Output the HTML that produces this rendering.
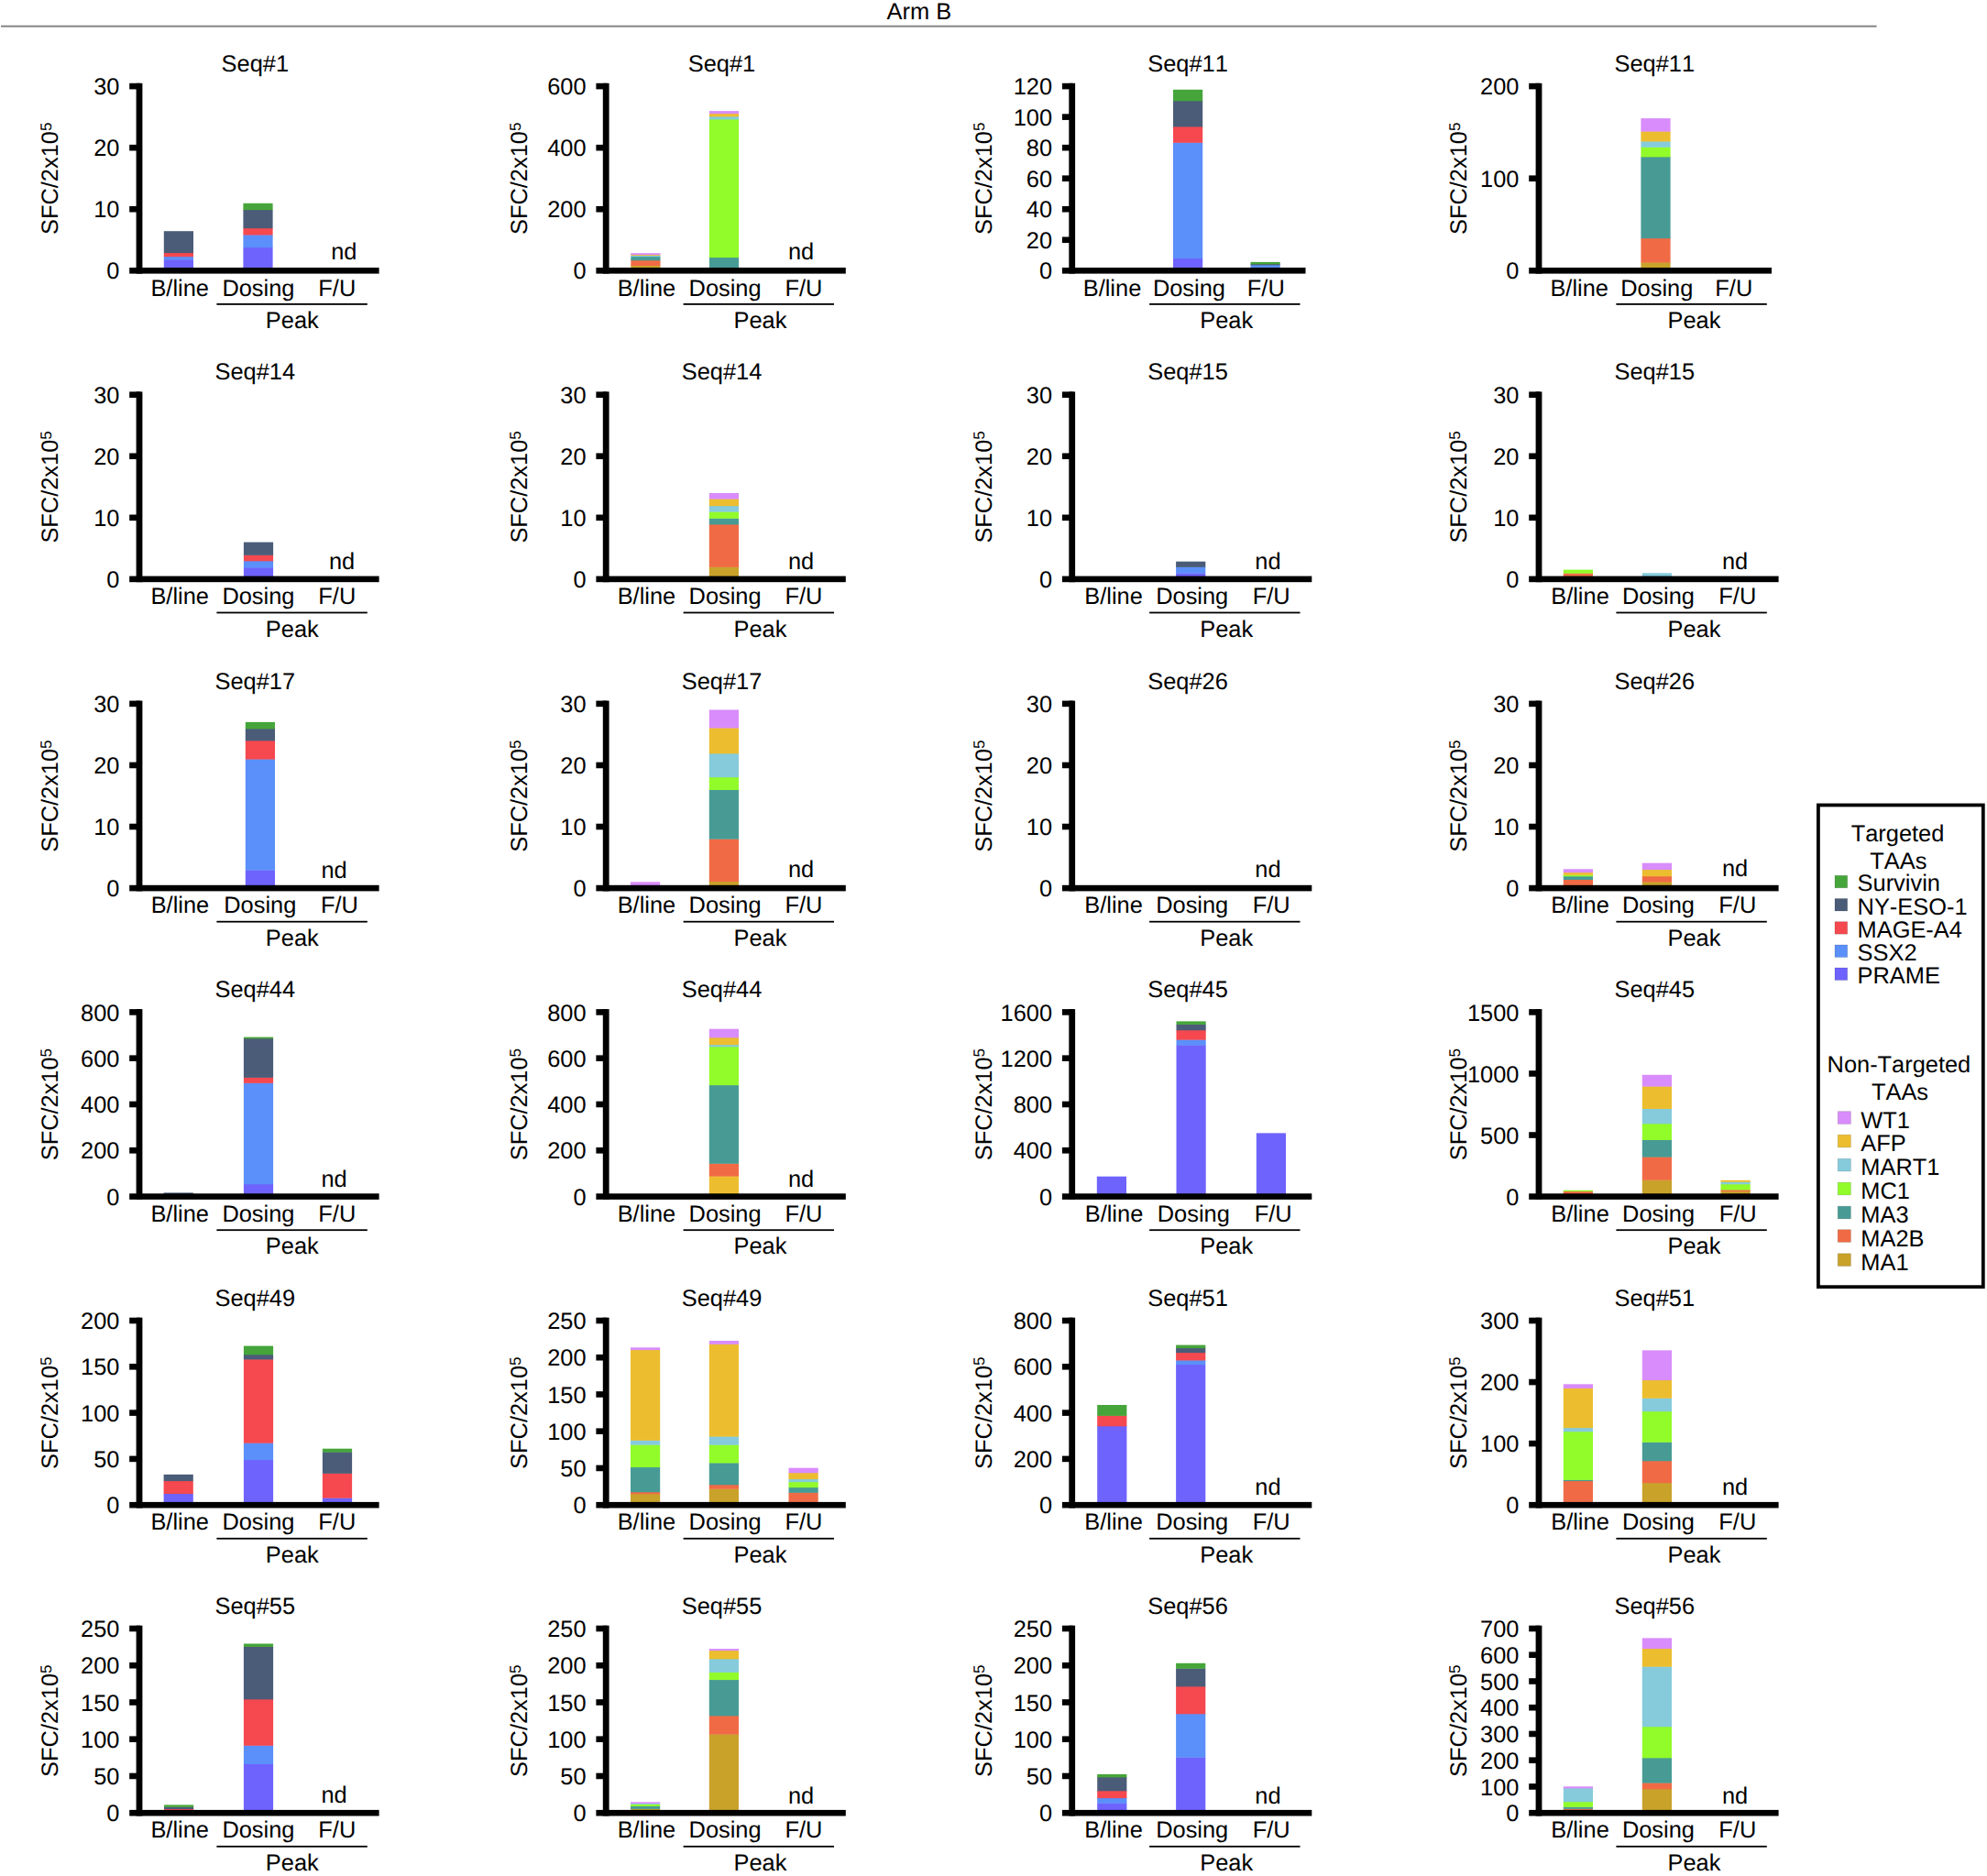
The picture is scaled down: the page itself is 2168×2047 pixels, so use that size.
<!DOCTYPE html>
<html lang="en"><head><meta charset="utf-8"><title>Arm B</title>
<style>html,body{margin:0;padding:0;background:#fff}svg{display:block}text{font-kerning:none;font-variant-ligatures:none;text-rendering:geometricPrecision;font-family:"Liberation Sans",Arial,Helvetica,sans-serif;font-size:25.4px;fill:#000}.m{text-anchor:middle}.e{text-anchor:end}.ax{fill:#000}</style>
</head><body>
<svg width="2168" height="2047" viewBox="0 0 2168 2047">
<rect width="2168" height="2047" fill="#fff"/>
<text class="m" x="1002.8" y="21.1">Arm B</text>
<rect x="1" y="27.7" width="2046.6" height="1.9" fill="#7f7f7f"/>
<g>
<text class="m" x="278.3" y="77.7">Seq#1</text>
<text class="m" transform="translate(63 194.8) rotate(-90)">SFC/2x10<tspan font-size="17" dy="-7.4">5</tspan></text>
<rect x="178.8" y="283.1" width="32.2" height="12.6" fill="#6e63fd"/>
<rect x="178.8" y="279.8" width="32.2" height="3.7" fill="#5b8ff9"/>
<rect x="178.8" y="275.7" width="32.2" height="4.5" fill="#f5484f"/>
<rect x="178.8" y="252.2" width="32.2" height="23.9" fill="#4b5c78"/>
<rect x="265.4" y="269.8" width="32.2" height="25.9" fill="#6e63fd"/>
<rect x="265.4" y="256.1" width="32.2" height="14.1" fill="#5b8ff9"/>
<rect x="265.4" y="248.8" width="32.2" height="7.7" fill="#f5484f"/>
<rect x="265.4" y="228.7" width="32.2" height="20.5" fill="#4b5c78"/>
<rect x="265.4" y="221.8" width="32.2" height="7.3" fill="#46a53a"/>
<rect class="ax" x="141.2" y="90.8" width="11.8" height="6.6"/>
<text class="e" x="130.4" y="103.2">30</text>
<rect class="ax" x="141.2" y="157.87" width="11.8" height="6.6"/>
<text class="e" x="130.4" y="170.27">20</text>
<rect class="ax" x="141.2" y="224.93" width="11.8" height="6.6"/>
<text class="e" x="130.4" y="237.33">10</text>
<text class="e" x="130.4" y="304.4">0</text>
<rect class="ax" x="148.6" y="90.8" width="6.8" height="207.8"/>
<rect class="ax" x="141.2" y="292" width="272.4" height="6.6"/>
<text class="m" x="196.2" y="322.5">B/line</text>
<text class="m" x="281.9" y="322.5">Dosing</text>
<text class="m" x="367.8" y="322.5">F/U</text>
<rect class="ax" x="236.4" y="331" width="164.4" height="1.8"/>
<text class="m" x="318.8" y="358">Peak</text>
<text class="m" x="375.3" y="282.8">nd</text>
</g>
<g>
<text class="m" x="787.5" y="77.7">Seq#1</text>
<text class="m" transform="translate(575 194.8) rotate(-90)">SFC/2x10<tspan font-size="17" dy="-7.4">5</tspan></text>
<rect x="688.3" y="289.6" width="32.2" height="6.1" fill="#c9a22a"/>
<rect x="688.3" y="283.9" width="32.2" height="6.1" fill="#f06b45"/>
<rect x="688.3" y="279.8" width="32.2" height="4.5" fill="#479b94"/>
<rect x="688.3" y="278.6" width="32.2" height="1.6" fill="#85cbdc"/>
<rect x="688.3" y="277.7" width="32.2" height="1.3" fill="#ecbe2f"/>
<rect x="688.3" y="276.2" width="32.2" height="1.9" fill="#d98cfb"/>
<rect x="773.9" y="280.7" width="32.2" height="15" fill="#479b94"/>
<rect x="773.9" y="130" width="32.2" height="151.1" fill="#92fb2a"/>
<rect x="773.9" y="127" width="32.2" height="3.4" fill="#85cbdc"/>
<rect x="773.9" y="123.8" width="32.2" height="3.6" fill="#ecbe2f"/>
<rect x="773.9" y="121.1" width="32.2" height="3.1" fill="#d98cfb"/>
<rect class="ax" x="650.4" y="90.8" width="11.8" height="6.6"/>
<text class="e" x="639.6" y="103.2">600</text>
<rect class="ax" x="650.4" y="157.87" width="11.8" height="6.6"/>
<text class="e" x="639.6" y="170.27">400</text>
<rect class="ax" x="650.4" y="224.93" width="11.8" height="6.6"/>
<text class="e" x="639.6" y="237.33">200</text>
<text class="e" x="639.6" y="304.4">0</text>
<rect class="ax" x="657.8" y="90.8" width="6.8" height="207.8"/>
<rect class="ax" x="650.4" y="292" width="272.4" height="6.6"/>
<text class="m" x="705.4" y="322.5">B/line</text>
<text class="m" x="791.1" y="322.5">Dosing</text>
<text class="m" x="877" y="322.5">F/U</text>
<rect class="ax" x="745.6" y="331" width="164.4" height="1.8"/>
<text class="m" x="829.5" y="358">Peak</text>
<text class="m" x="874" y="282.5">nd</text>
</g>
<g>
<text class="m" x="1296" y="77.7">Seq#11</text>
<text class="m" transform="translate(1081.8 194.8) rotate(-90)">SFC/2x10<tspan font-size="17" dy="-7.4">5</tspan></text>
<rect x="1280" y="281.7" width="32.2" height="14" fill="#6e63fd"/>
<rect x="1280" y="155.4" width="32.2" height="126.7" fill="#5b8ff9"/>
<rect x="1280" y="138" width="32.2" height="17.8" fill="#f5484f"/>
<rect x="1280" y="109.9" width="32.2" height="28.5" fill="#4b5c78"/>
<rect x="1280" y="97.8" width="32.2" height="12.5" fill="#46a53a"/>
<rect x="1364.5" y="289" width="32.2" height="6.7" fill="#5b8ff9"/>
<rect x="1364.5" y="287.9" width="32.2" height="1.5" fill="#4b5c78"/>
<rect x="1364.5" y="285.9" width="32.2" height="2.4" fill="#46a53a"/>
<rect class="ax" x="1158.9" y="90.8" width="11.8" height="6.6"/>
<text class="e" x="1148.1" y="103.2">120</text>
<rect class="ax" x="1158.9" y="124.33" width="11.8" height="6.6"/>
<text class="e" x="1148.1" y="136.73">100</text>
<rect class="ax" x="1158.9" y="157.87" width="11.8" height="6.6"/>
<text class="e" x="1148.1" y="170.27">80</text>
<rect class="ax" x="1158.9" y="191.4" width="11.8" height="6.6"/>
<text class="e" x="1148.1" y="203.8">60</text>
<rect class="ax" x="1158.9" y="224.93" width="11.8" height="6.6"/>
<text class="e" x="1148.1" y="237.33">40</text>
<rect class="ax" x="1158.9" y="258.47" width="11.8" height="6.6"/>
<text class="e" x="1148.1" y="270.87">20</text>
<text class="e" x="1148.1" y="304.4">0</text>
<rect class="ax" x="1166.3" y="90.8" width="6.8" height="207.8"/>
<rect class="ax" x="1158.9" y="292" width="265.6" height="6.6"/>
<text class="m" x="1213.5" y="322.5">B/line</text>
<text class="m" x="1297.4" y="322.5">Dosing</text>
<text class="m" x="1381.3" y="322.5">F/U</text>
<rect class="ax" x="1254.1" y="331" width="164.4" height="1.8"/>
<text class="m" x="1338.2" y="358">Peak</text>
</g>
<g>
<text class="m" x="1805.3" y="77.7">Seq#11</text>
<text class="m" transform="translate(1600.3 194.8) rotate(-90)">SFC/2x10<tspan font-size="17" dy="-7.4">5</tspan></text>
<rect x="1790.4" y="286.2" width="32.2" height="9.5" fill="#c9a22a"/>
<rect x="1790.4" y="259.8" width="32.2" height="26.8" fill="#f06b45"/>
<rect x="1790.4" y="171" width="32.2" height="89.2" fill="#479b94"/>
<rect x="1790.4" y="160.3" width="32.2" height="11.1" fill="#92fb2a"/>
<rect x="1790.4" y="154.1" width="32.2" height="6.6" fill="#85cbdc"/>
<rect x="1790.4" y="143.2" width="32.2" height="11.3" fill="#ecbe2f"/>
<rect x="1790.4" y="129.1" width="32.2" height="14.5" fill="#d98cfb"/>
<rect class="ax" x="1668.2" y="90.8" width="11.8" height="6.6"/>
<text class="e" x="1657.4" y="103.2">200</text>
<rect class="ax" x="1668.2" y="191.4" width="11.8" height="6.6"/>
<text class="e" x="1657.4" y="203.8">100</text>
<text class="e" x="1657.4" y="304.4">0</text>
<rect class="ax" x="1675.6" y="90.8" width="6.8" height="207.8"/>
<rect class="ax" x="1668.2" y="292" width="264.8" height="6.6"/>
<text class="m" x="1723.2" y="322.5">B/line</text>
<text class="m" x="1807.8" y="322.5">Dosing</text>
<text class="m" x="1891.8" y="322.5">F/U</text>
<rect class="ax" x="1763.4" y="331" width="164.4" height="1.8"/>
<text class="m" x="1848.5" y="358">Peak</text>
</g>
<g>
<text class="m" x="278.3" y="414.3">Seq#14</text>
<text class="m" transform="translate(63 531.4) rotate(-90)">SFC/2x10<tspan font-size="17" dy="-7.4">5</tspan></text>
<rect x="265.9" y="619.1" width="32.2" height="13.2" fill="#6e63fd"/>
<rect x="265.9" y="611.9" width="32.2" height="7.6" fill="#5b8ff9"/>
<rect x="265.9" y="605.5" width="32.2" height="6.8" fill="#f5484f"/>
<rect x="265.9" y="591.6" width="32.2" height="14.3" fill="#4b5c78"/>
<rect class="ax" x="141.2" y="427.4" width="11.8" height="6.6"/>
<text class="e" x="130.4" y="439.8">30</text>
<rect class="ax" x="141.2" y="494.47" width="11.8" height="6.6"/>
<text class="e" x="130.4" y="506.87">20</text>
<rect class="ax" x="141.2" y="561.53" width="11.8" height="6.6"/>
<text class="e" x="130.4" y="573.93">10</text>
<text class="e" x="130.4" y="641">0</text>
<rect class="ax" x="148.6" y="427.4" width="6.8" height="207.8"/>
<rect class="ax" x="141.2" y="628.6" width="272.4" height="6.6"/>
<text class="m" x="196.2" y="659.1">B/line</text>
<text class="m" x="281.9" y="659.1">Dosing</text>
<text class="m" x="367.8" y="659.1">F/U</text>
<rect class="ax" x="236.4" y="667.6" width="164.4" height="1.8"/>
<text class="m" x="318.8" y="694.6">Peak</text>
<text class="m" x="373" y="620.5">nd</text>
</g>
<g>
<text class="m" x="787.5" y="414.3">Seq#14</text>
<text class="m" transform="translate(575 531.4) rotate(-90)">SFC/2x10<tspan font-size="17" dy="-7.4">5</tspan></text>
<rect x="773.8" y="618.5" width="32.2" height="13.8" fill="#c9a22a"/>
<rect x="773.8" y="572" width="32.2" height="46.9" fill="#f06b45"/>
<rect x="773.8" y="565.4" width="32.2" height="7" fill="#479b94"/>
<rect x="773.8" y="558.2" width="32.2" height="7.6" fill="#92fb2a"/>
<rect x="773.8" y="551.8" width="32.2" height="6.8" fill="#85cbdc"/>
<rect x="773.8" y="544.2" width="32.2" height="8" fill="#ecbe2f"/>
<rect x="773.8" y="538" width="32.2" height="6.6" fill="#d98cfb"/>
<rect class="ax" x="650.4" y="427.4" width="11.8" height="6.6"/>
<text class="e" x="639.6" y="439.8">30</text>
<rect class="ax" x="650.4" y="494.47" width="11.8" height="6.6"/>
<text class="e" x="639.6" y="506.87">20</text>
<rect class="ax" x="650.4" y="561.53" width="11.8" height="6.6"/>
<text class="e" x="639.6" y="573.93">10</text>
<text class="e" x="639.6" y="641">0</text>
<rect class="ax" x="657.8" y="427.4" width="6.8" height="207.8"/>
<rect class="ax" x="650.4" y="628.6" width="272.4" height="6.6"/>
<text class="m" x="705.4" y="659.1">B/line</text>
<text class="m" x="791.1" y="659.1">Dosing</text>
<text class="m" x="877" y="659.1">F/U</text>
<rect class="ax" x="745.6" y="667.6" width="164.4" height="1.8"/>
<text class="m" x="829.5" y="694.6">Peak</text>
<text class="m" x="874" y="620.5">nd</text>
</g>
<g>
<text class="m" x="1296" y="414.3">Seq#15</text>
<text class="m" transform="translate(1081.8 531.4) rotate(-90)">SFC/2x10<tspan font-size="17" dy="-7.4">5</tspan></text>
<rect x="1283.1" y="625.3" width="32.2" height="7" fill="#6e63fd"/>
<rect x="1283.1" y="618.5" width="32.2" height="7.2" fill="#5b8ff9"/>
<rect x="1283.1" y="612.7" width="32.2" height="6.2" fill="#4b5c78"/>
<rect class="ax" x="1158.9" y="427.4" width="11.8" height="6.6"/>
<text class="e" x="1148.1" y="439.8">30</text>
<rect class="ax" x="1158.9" y="494.47" width="11.8" height="6.6"/>
<text class="e" x="1148.1" y="506.87">20</text>
<rect class="ax" x="1158.9" y="561.53" width="11.8" height="6.6"/>
<text class="e" x="1148.1" y="573.93">10</text>
<text class="e" x="1148.1" y="641">0</text>
<rect class="ax" x="1166.3" y="427.4" width="6.8" height="207.8"/>
<rect class="ax" x="1158.9" y="628.6" width="272.4" height="6.6"/>
<text class="m" x="1215.1" y="659.1">B/line</text>
<text class="m" x="1300.7" y="659.1">Dosing</text>
<text class="m" x="1387.2" y="659.1">F/U</text>
<rect class="ax" x="1254.1" y="667.6" width="164.4" height="1.8"/>
<text class="m" x="1338.2" y="694.6">Peak</text>
<text class="m" x="1383.4" y="620.5">nd</text>
</g>
<g>
<text class="m" x="1805.3" y="414.3">Seq#15</text>
<text class="m" transform="translate(1600.3 531.4) rotate(-90)">SFC/2x10<tspan font-size="17" dy="-7.4">5</tspan></text>
<rect x="1705.8" y="625.3" width="32.2" height="7" fill="#f06b45"/>
<rect x="1705.8" y="621.6" width="32.2" height="4.1" fill="#92fb2a"/>
<rect x="1791.8" y="625.3" width="32.2" height="7" fill="#85cbdc"/>
<rect class="ax" x="1668.2" y="427.4" width="11.8" height="6.6"/>
<text class="e" x="1657.4" y="439.8">30</text>
<rect class="ax" x="1668.2" y="494.47" width="11.8" height="6.6"/>
<text class="e" x="1657.4" y="506.87">20</text>
<rect class="ax" x="1668.2" y="561.53" width="11.8" height="6.6"/>
<text class="e" x="1657.4" y="573.93">10</text>
<text class="e" x="1657.4" y="641">0</text>
<rect class="ax" x="1675.6" y="427.4" width="6.8" height="207.8"/>
<rect class="ax" x="1668.2" y="628.6" width="272.4" height="6.6"/>
<text class="m" x="1724" y="659.1">B/line</text>
<text class="m" x="1809.4" y="659.1">Dosing</text>
<text class="m" x="1895.8" y="659.1">F/U</text>
<rect class="ax" x="1763.4" y="667.6" width="164.4" height="1.8"/>
<text class="m" x="1848.5" y="694.6">Peak</text>
<text class="m" x="1893" y="620.5">nd</text>
</g>
<g>
<text class="m" x="278.3" y="751.5">Seq#17</text>
<text class="m" transform="translate(63 868.6) rotate(-90)">SFC/2x10<tspan font-size="17" dy="-7.4">5</tspan></text>
<rect x="267.8" y="949.3" width="32.2" height="20.2" fill="#6e63fd"/>
<rect x="267.8" y="828.2" width="32.2" height="121.5" fill="#5b8ff9"/>
<rect x="267.8" y="808" width="32.2" height="20.6" fill="#f5484f"/>
<rect x="267.8" y="795" width="32.2" height="13.4" fill="#4b5c78"/>
<rect x="267.8" y="787.9" width="32.2" height="7.5" fill="#46a53a"/>
<rect class="ax" x="141.2" y="764.6" width="11.8" height="6.6"/>
<text class="e" x="130.4" y="777">30</text>
<rect class="ax" x="141.2" y="831.67" width="11.8" height="6.6"/>
<text class="e" x="130.4" y="844.07">20</text>
<rect class="ax" x="141.2" y="898.73" width="11.8" height="6.6"/>
<text class="e" x="130.4" y="911.13">10</text>
<text class="e" x="130.4" y="978.2">0</text>
<rect class="ax" x="148.6" y="764.6" width="6.8" height="207.8"/>
<rect class="ax" x="141.2" y="965.8" width="272.4" height="6.6"/>
<text class="m" x="196.4" y="996.3">B/line</text>
<text class="m" x="283.8" y="996.3">Dosing</text>
<text class="m" x="370.4" y="996.3">F/U</text>
<rect class="ax" x="236.4" y="1004.8" width="164.4" height="1.8"/>
<text class="m" x="318.8" y="1031.8">Peak</text>
<text class="m" x="364.6" y="958">nd</text>
</g>
<g>
<text class="m" x="787.5" y="751.5">Seq#17</text>
<text class="m" transform="translate(575 868.6) rotate(-90)">SFC/2x10<tspan font-size="17" dy="-7.4">5</tspan></text>
<rect x="688" y="962.3" width="32.2" height="7.2" fill="#d98cfb"/>
<rect x="773.8" y="961.7" width="32.2" height="7.8" fill="#c9a22a"/>
<rect x="773.8" y="915.3" width="32.2" height="46.8" fill="#f06b45"/>
<rect x="773.8" y="861.6" width="32.2" height="54.1" fill="#479b94"/>
<rect x="773.8" y="847.8" width="32.2" height="14.2" fill="#92fb2a"/>
<rect x="773.8" y="822" width="32.2" height="26.2" fill="#85cbdc"/>
<rect x="773.8" y="794.1" width="32.2" height="28.3" fill="#ecbe2f"/>
<rect x="773.8" y="774.5" width="32.2" height="20" fill="#d98cfb"/>
<rect class="ax" x="650.4" y="764.6" width="11.8" height="6.6"/>
<text class="e" x="639.6" y="777">30</text>
<rect class="ax" x="650.4" y="831.67" width="11.8" height="6.6"/>
<text class="e" x="639.6" y="844.07">20</text>
<rect class="ax" x="650.4" y="898.73" width="11.8" height="6.6"/>
<text class="e" x="639.6" y="911.13">10</text>
<text class="e" x="639.6" y="978.2">0</text>
<rect class="ax" x="657.8" y="764.6" width="6.8" height="207.8"/>
<rect class="ax" x="650.4" y="965.8" width="272.4" height="6.6"/>
<text class="m" x="705.4" y="996.3">B/line</text>
<text class="m" x="791.1" y="996.3">Dosing</text>
<text class="m" x="877" y="996.3">F/U</text>
<rect class="ax" x="745.6" y="1004.8" width="164.4" height="1.8"/>
<text class="m" x="829.5" y="1031.8">Peak</text>
<text class="m" x="874" y="956.8">nd</text>
</g>
<g>
<text class="m" x="1296" y="751.5">Seq#26</text>
<text class="m" transform="translate(1081.8 868.6) rotate(-90)">SFC/2x10<tspan font-size="17" dy="-7.4">5</tspan></text>
<rect class="ax" x="1158.9" y="764.6" width="11.8" height="6.6"/>
<text class="e" x="1148.1" y="777">30</text>
<rect class="ax" x="1158.9" y="831.67" width="11.8" height="6.6"/>
<text class="e" x="1148.1" y="844.07">20</text>
<rect class="ax" x="1158.9" y="898.73" width="11.8" height="6.6"/>
<text class="e" x="1148.1" y="911.13">10</text>
<text class="e" x="1148.1" y="978.2">0</text>
<rect class="ax" x="1166.3" y="764.6" width="6.8" height="207.8"/>
<rect class="ax" x="1158.9" y="965.8" width="272.4" height="6.6"/>
<text class="m" x="1215.1" y="996.3">B/line</text>
<text class="m" x="1300.7" y="996.3">Dosing</text>
<text class="m" x="1387.2" y="996.3">F/U</text>
<rect class="ax" x="1254.1" y="1004.8" width="164.4" height="1.8"/>
<text class="m" x="1338.2" y="1031.8">Peak</text>
<text class="m" x="1383.4" y="956.8">nd</text>
</g>
<g>
<text class="m" x="1805.3" y="751.5">Seq#26</text>
<text class="m" transform="translate(1600.3 868.6) rotate(-90)">SFC/2x10<tspan font-size="17" dy="-7.4">5</tspan></text>
<rect x="1705.8" y="959.6" width="32.2" height="9.9" fill="#f06b45"/>
<rect x="1705.8" y="956" width="32.2" height="4" fill="#479b94"/>
<rect x="1705.8" y="954.5" width="32.2" height="1.9" fill="#92fb2a"/>
<rect x="1705.8" y="951.8" width="32.2" height="3.1" fill="#ecbe2f"/>
<rect x="1705.8" y="948.3" width="32.2" height="3.9" fill="#d98cfb"/>
<rect x="1791.8" y="962.1" width="32.2" height="7.4" fill="#c9a22a"/>
<rect x="1791.8" y="955.9" width="32.2" height="6.6" fill="#f06b45"/>
<rect x="1791.8" y="948.7" width="32.2" height="7.6" fill="#ecbe2f"/>
<rect x="1791.8" y="941.7" width="32.2" height="7.4" fill="#d98cfb"/>
<rect class="ax" x="1668.2" y="764.6" width="11.8" height="6.6"/>
<text class="e" x="1657.4" y="777">30</text>
<rect class="ax" x="1668.2" y="831.67" width="11.8" height="6.6"/>
<text class="e" x="1657.4" y="844.07">20</text>
<rect class="ax" x="1668.2" y="898.73" width="11.8" height="6.6"/>
<text class="e" x="1657.4" y="911.13">10</text>
<text class="e" x="1657.4" y="978.2">0</text>
<rect class="ax" x="1675.6" y="764.6" width="6.8" height="207.8"/>
<rect class="ax" x="1668.2" y="965.8" width="272.4" height="6.6"/>
<text class="m" x="1724" y="996.3">B/line</text>
<text class="m" x="1809.4" y="996.3">Dosing</text>
<text class="m" x="1895.8" y="996.3">F/U</text>
<rect class="ax" x="1763.4" y="1004.8" width="164.4" height="1.8"/>
<text class="m" x="1848.5" y="1031.8">Peak</text>
<text class="m" x="1893" y="956.3">nd</text>
</g>
<g>
<text class="m" x="278.3" y="1088">Seq#44</text>
<text class="m" transform="translate(63 1205.1) rotate(-90)">SFC/2x10<tspan font-size="17" dy="-7.4">5</tspan></text>
<rect x="178.6" y="1301.4" width="32.2" height="4.6" fill="#4b5c78"/>
<rect x="265.9" y="1291.9" width="32.2" height="14.1" fill="#6e63fd"/>
<rect x="265.9" y="1181.5" width="32.2" height="110.8" fill="#5b8ff9"/>
<rect x="265.9" y="1175.5" width="32.2" height="6.4" fill="#f5484f"/>
<rect x="265.9" y="1133" width="32.2" height="42.9" fill="#4b5c78"/>
<rect x="265.9" y="1131.6" width="32.2" height="1.8" fill="#46a53a"/>
<rect class="ax" x="141.2" y="1101.1" width="11.8" height="6.6"/>
<text class="e" x="130.4" y="1113.5">800</text>
<rect class="ax" x="141.2" y="1151.4" width="11.8" height="6.6"/>
<text class="e" x="130.4" y="1163.8">600</text>
<rect class="ax" x="141.2" y="1201.7" width="11.8" height="6.6"/>
<text class="e" x="130.4" y="1214.1">400</text>
<rect class="ax" x="141.2" y="1252" width="11.8" height="6.6"/>
<text class="e" x="130.4" y="1264.4">200</text>
<text class="e" x="130.4" y="1314.7">0</text>
<rect class="ax" x="148.6" y="1101.1" width="6.8" height="207.8"/>
<rect class="ax" x="141.2" y="1302.3" width="272.4" height="6.6"/>
<text class="m" x="196.2" y="1332.8">B/line</text>
<text class="m" x="281.9" y="1332.8">Dosing</text>
<text class="m" x="367.8" y="1332.8">F/U</text>
<rect class="ax" x="236.4" y="1341.3" width="164.4" height="1.8"/>
<text class="m" x="318.8" y="1368.3">Peak</text>
<text class="m" x="364.6" y="1294.6">nd</text>
</g>
<g>
<text class="m" x="787.5" y="1088">Seq#44</text>
<text class="m" transform="translate(575 1205.1) rotate(-90)">SFC/2x10<tspan font-size="17" dy="-7.4">5</tspan></text>
<rect x="773.8" y="1283.2" width="32.2" height="22.8" fill="#ecbe2f"/>
<rect x="773.8" y="1269.4" width="32.2" height="14.2" fill="#f06b45"/>
<rect x="773.8" y="1183.8" width="32.2" height="86" fill="#479b94"/>
<rect x="773.8" y="1141.9" width="32.2" height="42.3" fill="#92fb2a"/>
<rect x="773.8" y="1139.8" width="32.2" height="2.5" fill="#85cbdc"/>
<rect x="773.8" y="1132" width="32.2" height="8.2" fill="#ecbe2f"/>
<rect x="773.8" y="1122.7" width="32.2" height="9.7" fill="#d98cfb"/>
<rect class="ax" x="650.4" y="1101.1" width="11.8" height="6.6"/>
<text class="e" x="639.6" y="1113.5">800</text>
<rect class="ax" x="650.4" y="1151.4" width="11.8" height="6.6"/>
<text class="e" x="639.6" y="1163.8">600</text>
<rect class="ax" x="650.4" y="1201.7" width="11.8" height="6.6"/>
<text class="e" x="639.6" y="1214.1">400</text>
<rect class="ax" x="650.4" y="1252" width="11.8" height="6.6"/>
<text class="e" x="639.6" y="1264.4">200</text>
<text class="e" x="639.6" y="1314.7">0</text>
<rect class="ax" x="657.8" y="1101.1" width="6.8" height="207.8"/>
<rect class="ax" x="650.4" y="1302.3" width="272.4" height="6.6"/>
<text class="m" x="705.4" y="1332.8">B/line</text>
<text class="m" x="791.1" y="1332.8">Dosing</text>
<text class="m" x="877" y="1332.8">F/U</text>
<rect class="ax" x="745.6" y="1341.3" width="164.4" height="1.8"/>
<text class="m" x="829.5" y="1368.3">Peak</text>
<text class="m" x="874" y="1294.6">nd</text>
</g>
<g>
<text class="m" x="1296" y="1088">Seq#45</text>
<text class="m" transform="translate(1081.8 1205.1) rotate(-90)">SFC/2x10<tspan font-size="17" dy="-7.4">5</tspan></text>
<rect x="1196.8" y="1283.7" width="32.2" height="22.3" fill="#6e63fd"/>
<rect x="1283.5" y="1140.2" width="32.2" height="165.8" fill="#6e63fd"/>
<rect x="1283.5" y="1134.3" width="32.2" height="6.3" fill="#5b8ff9"/>
<rect x="1283.5" y="1123.9" width="32.2" height="10.8" fill="#f5484f"/>
<rect x="1283.5" y="1117.5" width="32.2" height="6.8" fill="#4b5c78"/>
<rect x="1283.5" y="1114.4" width="32.2" height="3.5" fill="#46a53a"/>
<rect x="1370.8" y="1236.4" width="32.2" height="69.6" fill="#6e63fd"/>
<rect class="ax" x="1158.9" y="1101.1" width="11.8" height="6.6"/>
<text class="e" x="1148.1" y="1113.5">1600</text>
<rect class="ax" x="1158.9" y="1151.4" width="11.8" height="6.6"/>
<text class="e" x="1148.1" y="1163.8">1200</text>
<rect class="ax" x="1158.9" y="1201.7" width="11.8" height="6.6"/>
<text class="e" x="1148.1" y="1214.1">800</text>
<rect class="ax" x="1158.9" y="1252" width="11.8" height="6.6"/>
<text class="e" x="1148.1" y="1264.4">400</text>
<text class="e" x="1148.1" y="1314.7">0</text>
<rect class="ax" x="1166.3" y="1101.1" width="6.8" height="207.8"/>
<rect class="ax" x="1158.9" y="1302.3" width="272.4" height="6.6"/>
<text class="m" x="1215.5" y="1332.8">B/line</text>
<text class="m" x="1302.3" y="1332.8">Dosing</text>
<text class="m" x="1389.1" y="1332.8">F/U</text>
<rect class="ax" x="1254.1" y="1341.3" width="164.4" height="1.8"/>
<text class="m" x="1338.2" y="1368.3">Peak</text>
</g>
<g>
<text class="m" x="1805.3" y="1088">Seq#45</text>
<text class="m" transform="translate(1600.3 1205.1) rotate(-90)">SFC/2x10<tspan font-size="17" dy="-7.4">5</tspan></text>
<rect x="1705.8" y="1299.7" width="32.2" height="6.3" fill="#f06b45"/>
<rect x="1705.8" y="1298.7" width="32.2" height="1.4" fill="#92fb2a"/>
<rect x="1791.8" y="1287.4" width="32.2" height="18.6" fill="#c9a22a"/>
<rect x="1791.8" y="1262.2" width="32.2" height="25.6" fill="#f06b45"/>
<rect x="1791.8" y="1243.6" width="32.2" height="19" fill="#479b94"/>
<rect x="1791.8" y="1225.9" width="32.2" height="18.1" fill="#92fb2a"/>
<rect x="1791.8" y="1209.6" width="32.2" height="16.7" fill="#85cbdc"/>
<rect x="1791.8" y="1185.2" width="32.2" height="24.8" fill="#ecbe2f"/>
<rect x="1791.8" y="1172.8" width="32.2" height="12.8" fill="#d98cfb"/>
<rect x="1877.5" y="1299.7" width="32.2" height="6.3" fill="#c9a22a"/>
<rect x="1877.5" y="1298.1" width="32.2" height="2" fill="#f06b45"/>
<rect x="1877.5" y="1291.9" width="32.2" height="6.6" fill="#92fb2a"/>
<rect x="1877.5" y="1289.4" width="32.2" height="2.9" fill="#85cbdc"/>
<rect x="1877.5" y="1287.8" width="32.2" height="2" fill="#ecbe2f"/>
<rect class="ax" x="1668.2" y="1101.1" width="11.8" height="6.6"/>
<text class="e" x="1657.4" y="1113.5">1500</text>
<rect class="ax" x="1668.2" y="1168.17" width="11.8" height="6.6"/>
<text class="e" x="1657.4" y="1180.57">1000</text>
<rect class="ax" x="1668.2" y="1235.23" width="11.8" height="6.6"/>
<text class="e" x="1657.4" y="1247.63">500</text>
<text class="e" x="1657.4" y="1314.7">0</text>
<rect class="ax" x="1675.6" y="1101.1" width="6.8" height="207.8"/>
<rect class="ax" x="1668.2" y="1302.3" width="272.4" height="6.6"/>
<text class="m" x="1724" y="1332.8">B/line</text>
<text class="m" x="1809.6" y="1332.8">Dosing</text>
<text class="m" x="1896.2" y="1332.8">F/U</text>
<rect class="ax" x="1763.4" y="1341.3" width="164.4" height="1.8"/>
<text class="m" x="1848.5" y="1368.3">Peak</text>
</g>
<g>
<text class="m" x="278.3" y="1424.6">Seq#49</text>
<text class="m" transform="translate(63 1541.7) rotate(-90)">SFC/2x10<tspan font-size="17" dy="-7.4">5</tspan></text>
<rect x="178.6" y="1629.6" width="32.2" height="13" fill="#6e63fd"/>
<rect x="178.6" y="1615.7" width="32.2" height="14.3" fill="#f5484f"/>
<rect x="178.6" y="1608.9" width="32.2" height="7.2" fill="#4b5c78"/>
<rect x="265.9" y="1592.8" width="32.2" height="49.8" fill="#6e63fd"/>
<rect x="265.9" y="1574.3" width="32.2" height="18.9" fill="#5b8ff9"/>
<rect x="265.9" y="1483.1" width="32.2" height="91.6" fill="#f5484f"/>
<rect x="265.9" y="1477.9" width="32.2" height="5.6" fill="#4b5c78"/>
<rect x="265.9" y="1468.6" width="32.2" height="9.7" fill="#46a53a"/>
<rect x="351.9" y="1634.3" width="32.2" height="8.3" fill="#6e63fd"/>
<rect x="351.9" y="1607.5" width="32.2" height="27.2" fill="#f5484f"/>
<rect x="351.9" y="1584.2" width="32.2" height="23.7" fill="#4b5c78"/>
<rect x="351.9" y="1580.7" width="32.2" height="3.9" fill="#46a53a"/>
<rect class="ax" x="141.2" y="1437.7" width="11.8" height="6.6"/>
<text class="e" x="130.4" y="1450.1">200</text>
<rect class="ax" x="141.2" y="1488" width="11.8" height="6.6"/>
<text class="e" x="130.4" y="1500.4">150</text>
<rect class="ax" x="141.2" y="1538.3" width="11.8" height="6.6"/>
<text class="e" x="130.4" y="1550.7">100</text>
<rect class="ax" x="141.2" y="1588.6" width="11.8" height="6.6"/>
<text class="e" x="130.4" y="1601">50</text>
<text class="e" x="130.4" y="1651.3">0</text>
<rect class="ax" x="148.6" y="1437.7" width="6.8" height="207.8"/>
<rect class="ax" x="141.2" y="1638.9" width="272.4" height="6.6"/>
<text class="m" x="196.2" y="1669.4">B/line</text>
<text class="m" x="281.9" y="1669.4">Dosing</text>
<text class="m" x="367.8" y="1669.4">F/U</text>
<rect class="ax" x="236.4" y="1677.9" width="164.4" height="1.8"/>
<text class="m" x="318.8" y="1704.9">Peak</text>
</g>
<g>
<text class="m" x="787.5" y="1424.6">Seq#49</text>
<text class="m" transform="translate(575 1541.7) rotate(-90)">SFC/2x10<tspan font-size="17" dy="-7.4">5</tspan></text>
<rect x="688" y="1630" width="32.2" height="12.6" fill="#c9a22a"/>
<rect x="688" y="1627.9" width="32.2" height="2.5" fill="#f06b45"/>
<rect x="688" y="1600.7" width="32.2" height="27.6" fill="#479b94"/>
<rect x="688" y="1576.3" width="32.2" height="24.8" fill="#92fb2a"/>
<rect x="688" y="1571.4" width="32.2" height="5.3" fill="#85cbdc"/>
<rect x="688" y="1472.7" width="32.2" height="99.1" fill="#ecbe2f"/>
<rect x="688" y="1470.3" width="32.2" height="2.8" fill="#d98cfb"/>
<rect x="773.8" y="1624.4" width="32.2" height="18.2" fill="#c9a22a"/>
<rect x="773.8" y="1619.9" width="32.2" height="4.9" fill="#f06b45"/>
<rect x="773.8" y="1596.1" width="32.2" height="24.2" fill="#479b94"/>
<rect x="773.8" y="1576.3" width="32.2" height="20.2" fill="#92fb2a"/>
<rect x="773.8" y="1567.2" width="32.2" height="9.5" fill="#85cbdc"/>
<rect x="773.8" y="1466.5" width="32.2" height="101.1" fill="#ecbe2f"/>
<rect x="773.8" y="1463" width="32.2" height="3.9" fill="#d98cfb"/>
<rect x="860.5" y="1628.5" width="32.2" height="14.1" fill="#f06b45"/>
<rect x="860.5" y="1622.8" width="32.2" height="6.1" fill="#479b94"/>
<rect x="860.5" y="1616.8" width="32.2" height="6.4" fill="#92fb2a"/>
<rect x="860.5" y="1613.7" width="32.2" height="3.5" fill="#85cbdc"/>
<rect x="860.5" y="1606.9" width="32.2" height="7.2" fill="#ecbe2f"/>
<rect x="860.5" y="1601.7" width="32.2" height="5.6" fill="#d98cfb"/>
<rect class="ax" x="650.4" y="1437.7" width="11.8" height="6.6"/>
<text class="e" x="639.6" y="1450.1">250</text>
<rect class="ax" x="650.4" y="1477.94" width="11.8" height="6.6"/>
<text class="e" x="639.6" y="1490.34">200</text>
<rect class="ax" x="650.4" y="1518.18" width="11.8" height="6.6"/>
<text class="e" x="639.6" y="1530.58">150</text>
<rect class="ax" x="650.4" y="1558.42" width="11.8" height="6.6"/>
<text class="e" x="639.6" y="1570.82">100</text>
<rect class="ax" x="650.4" y="1598.66" width="11.8" height="6.6"/>
<text class="e" x="639.6" y="1611.06">50</text>
<text class="e" x="639.6" y="1651.3">0</text>
<rect class="ax" x="657.8" y="1437.7" width="6.8" height="207.8"/>
<rect class="ax" x="650.4" y="1638.9" width="272.4" height="6.6"/>
<text class="m" x="705.4" y="1669.4">B/line</text>
<text class="m" x="791.1" y="1669.4">Dosing</text>
<text class="m" x="877" y="1669.4">F/U</text>
<rect class="ax" x="745.6" y="1677.9" width="164.4" height="1.8"/>
<text class="m" x="829.5" y="1704.9">Peak</text>
</g>
<g>
<text class="m" x="1296" y="1424.6">Seq#51</text>
<text class="m" transform="translate(1081.8 1541.7) rotate(-90)">SFC/2x10<tspan font-size="17" dy="-7.4">5</tspan></text>
<rect x="1197.2" y="1555.9" width="32.2" height="86.7" fill="#6e63fd"/>
<rect x="1197.2" y="1544.5" width="32.2" height="11.8" fill="#f5484f"/>
<rect x="1197.2" y="1533" width="32.2" height="11.9" fill="#46a53a"/>
<rect x="1283.1" y="1488.8" width="32.2" height="153.8" fill="#6e63fd"/>
<rect x="1283.1" y="1484.1" width="32.2" height="5.1" fill="#5b8ff9"/>
<rect x="1283.1" y="1475.8" width="32.2" height="8.7" fill="#f5484f"/>
<rect x="1283.1" y="1470.7" width="32.2" height="5.5" fill="#4b5c78"/>
<rect x="1283.1" y="1467.6" width="32.2" height="3.5" fill="#46a53a"/>
<rect class="ax" x="1158.9" y="1437.7" width="11.8" height="6.6"/>
<text class="e" x="1148.1" y="1450.1">800</text>
<rect class="ax" x="1158.9" y="1488" width="11.8" height="6.6"/>
<text class="e" x="1148.1" y="1500.4">600</text>
<rect class="ax" x="1158.9" y="1538.3" width="11.8" height="6.6"/>
<text class="e" x="1148.1" y="1550.7">400</text>
<rect class="ax" x="1158.9" y="1588.6" width="11.8" height="6.6"/>
<text class="e" x="1148.1" y="1601">200</text>
<text class="e" x="1148.1" y="1651.3">0</text>
<rect class="ax" x="1166.3" y="1437.7" width="6.8" height="207.8"/>
<rect class="ax" x="1158.9" y="1638.9" width="272.4" height="6.6"/>
<text class="m" x="1215.1" y="1669.4">B/line</text>
<text class="m" x="1300.7" y="1669.4">Dosing</text>
<text class="m" x="1387.2" y="1669.4">F/U</text>
<rect class="ax" x="1254.1" y="1677.9" width="164.4" height="1.8"/>
<text class="m" x="1338.2" y="1704.9">Peak</text>
<text class="m" x="1383.4" y="1630.6">nd</text>
</g>
<g>
<text class="m" x="1805.3" y="1424.6">Seq#51</text>
<text class="m" transform="translate(1600.3 1541.7) rotate(-90)">SFC/2x10<tspan font-size="17" dy="-7.4">5</tspan></text>
<rect x="1705.8" y="1615.7" width="32.2" height="26.9" fill="#f06b45"/>
<rect x="1705.8" y="1614.5" width="32.2" height="1.6" fill="#479b94"/>
<rect x="1705.8" y="1561.9" width="32.2" height="53" fill="#92fb2a"/>
<rect x="1705.8" y="1557.8" width="32.2" height="4.5" fill="#85cbdc"/>
<rect x="1705.8" y="1514.6" width="32.2" height="43.6" fill="#ecbe2f"/>
<rect x="1705.8" y="1510.3" width="32.2" height="4.7" fill="#d98cfb"/>
<rect x="1791.8" y="1617.8" width="32.2" height="24.8" fill="#c9a22a"/>
<rect x="1791.8" y="1593.9" width="32.2" height="24.3" fill="#f06b45"/>
<rect x="1791.8" y="1573.4" width="32.2" height="20.9" fill="#479b94"/>
<rect x="1791.8" y="1539.8" width="32.2" height="34" fill="#92fb2a"/>
<rect x="1791.8" y="1525.4" width="32.2" height="14.8" fill="#85cbdc"/>
<rect x="1791.8" y="1505.7" width="32.2" height="20.1" fill="#ecbe2f"/>
<rect x="1791.8" y="1473.4" width="32.2" height="32.7" fill="#d98cfb"/>
<rect class="ax" x="1668.2" y="1437.7" width="11.8" height="6.6"/>
<text class="e" x="1657.4" y="1450.1">300</text>
<rect class="ax" x="1668.2" y="1504.77" width="11.8" height="6.6"/>
<text class="e" x="1657.4" y="1517.17">200</text>
<rect class="ax" x="1668.2" y="1571.83" width="11.8" height="6.6"/>
<text class="e" x="1657.4" y="1584.23">100</text>
<text class="e" x="1657.4" y="1651.3">0</text>
<rect class="ax" x="1675.6" y="1437.7" width="6.8" height="207.8"/>
<rect class="ax" x="1668.2" y="1638.9" width="272.4" height="6.6"/>
<text class="m" x="1724" y="1669.4">B/line</text>
<text class="m" x="1809.4" y="1669.4">Dosing</text>
<text class="m" x="1895.8" y="1669.4">F/U</text>
<rect class="ax" x="1763.4" y="1677.9" width="164.4" height="1.8"/>
<text class="m" x="1848.5" y="1704.9">Peak</text>
<text class="m" x="1893" y="1630.6">nd</text>
</g>
<g>
<text class="m" x="278.3" y="1760.6">Seq#55</text>
<text class="m" transform="translate(63 1877.7) rotate(-90)">SFC/2x10<tspan font-size="17" dy="-7.4">5</tspan></text>
<rect x="179" y="1973.6" width="32.2" height="5" fill="#f5484f"/>
<rect x="179" y="1971.5" width="32.2" height="2.5" fill="#4b5c78"/>
<rect x="179" y="1969.4" width="32.2" height="2.5" fill="#46a53a"/>
<rect x="265.9" y="1924.6" width="32.2" height="54" fill="#6e63fd"/>
<rect x="265.9" y="1904.4" width="32.2" height="20.6" fill="#5b8ff9"/>
<rect x="265.9" y="1854" width="32.2" height="50.8" fill="#f5484f"/>
<rect x="265.9" y="1796.6" width="32.2" height="57.8" fill="#4b5c78"/>
<rect x="265.9" y="1793.5" width="32.2" height="3.5" fill="#46a53a"/>
<rect class="ax" x="141.2" y="1773.7" width="11.8" height="6.6"/>
<text class="e" x="130.4" y="1786.1">250</text>
<rect class="ax" x="141.2" y="1813.94" width="11.8" height="6.6"/>
<text class="e" x="130.4" y="1826.34">200</text>
<rect class="ax" x="141.2" y="1854.18" width="11.8" height="6.6"/>
<text class="e" x="130.4" y="1866.58">150</text>
<rect class="ax" x="141.2" y="1894.42" width="11.8" height="6.6"/>
<text class="e" x="130.4" y="1906.82">100</text>
<rect class="ax" x="141.2" y="1934.66" width="11.8" height="6.6"/>
<text class="e" x="130.4" y="1947.06">50</text>
<text class="e" x="130.4" y="1987.3">0</text>
<rect class="ax" x="148.6" y="1773.7" width="6.8" height="207.8"/>
<rect class="ax" x="141.2" y="1974.9" width="272.4" height="6.6"/>
<text class="m" x="196.2" y="2005.4">B/line</text>
<text class="m" x="281.9" y="2005.4">Dosing</text>
<text class="m" x="367.8" y="2005.4">F/U</text>
<rect class="ax" x="236.4" y="2013.9" width="164.4" height="1.8"/>
<text class="m" x="318.8" y="2040.9">Peak</text>
<text class="m" x="364.6" y="1967.3">nd</text>
</g>
<g>
<text class="m" x="787.5" y="1760.6">Seq#55</text>
<text class="m" transform="translate(575 1877.7) rotate(-90)">SFC/2x10<tspan font-size="17" dy="-7.4">5</tspan></text>
<rect x="688" y="1973.5" width="32.2" height="5.1" fill="#c9a22a"/>
<rect x="688" y="1970.6" width="32.2" height="3.3" fill="#479b94"/>
<rect x="688" y="1968.5" width="32.2" height="2.5" fill="#92fb2a"/>
<rect x="688" y="1967.5" width="32.2" height="1.4" fill="#85cbdc"/>
<rect x="688" y="1966.3" width="32.2" height="1.6" fill="#d98cfb"/>
<rect x="773.8" y="1892.2" width="32.2" height="86.4" fill="#c9a22a"/>
<rect x="773.8" y="1872" width="32.2" height="20.6" fill="#f06b45"/>
<rect x="773.8" y="1832.7" width="32.2" height="39.7" fill="#479b94"/>
<rect x="773.8" y="1824.5" width="32.2" height="8.6" fill="#92fb2a"/>
<rect x="773.8" y="1810" width="32.2" height="14.9" fill="#85cbdc"/>
<rect x="773.8" y="1800.8" width="32.2" height="9.6" fill="#ecbe2f"/>
<rect x="773.8" y="1799.1" width="32.2" height="2.1" fill="#d98cfb"/>
<rect class="ax" x="650.4" y="1773.7" width="11.8" height="6.6"/>
<text class="e" x="639.6" y="1786.1">250</text>
<rect class="ax" x="650.4" y="1813.94" width="11.8" height="6.6"/>
<text class="e" x="639.6" y="1826.34">200</text>
<rect class="ax" x="650.4" y="1854.18" width="11.8" height="6.6"/>
<text class="e" x="639.6" y="1866.58">150</text>
<rect class="ax" x="650.4" y="1894.42" width="11.8" height="6.6"/>
<text class="e" x="639.6" y="1906.82">100</text>
<rect class="ax" x="650.4" y="1934.66" width="11.8" height="6.6"/>
<text class="e" x="639.6" y="1947.06">50</text>
<text class="e" x="639.6" y="1987.3">0</text>
<rect class="ax" x="657.8" y="1773.7" width="6.8" height="207.8"/>
<rect class="ax" x="650.4" y="1974.9" width="272.4" height="6.6"/>
<text class="m" x="705.4" y="2005.4">B/line</text>
<text class="m" x="791.1" y="2005.4">Dosing</text>
<text class="m" x="877" y="2005.4">F/U</text>
<rect class="ax" x="745.6" y="2013.9" width="164.4" height="1.8"/>
<text class="m" x="829.5" y="2040.9">Peak</text>
<text class="m" x="874" y="1967.5">nd</text>
</g>
<g>
<text class="m" x="1296" y="1760.6">Seq#56</text>
<text class="m" transform="translate(1081.8 1877.7) rotate(-90)">SFC/2x10<tspan font-size="17" dy="-7.4">5</tspan></text>
<rect x="1197.2" y="1967.5" width="32.2" height="11.1" fill="#6e63fd"/>
<rect x="1197.2" y="1961.7" width="32.2" height="6.2" fill="#5b8ff9"/>
<rect x="1197.2" y="1953.9" width="32.2" height="8.2" fill="#f5484f"/>
<rect x="1197.2" y="1939" width="32.2" height="15.3" fill="#4b5c78"/>
<rect x="1197.2" y="1935.9" width="32.2" height="3.5" fill="#46a53a"/>
<rect x="1283.1" y="1917.4" width="32.2" height="61.2" fill="#6e63fd"/>
<rect x="1283.1" y="1869.9" width="32.2" height="47.9" fill="#5b8ff9"/>
<rect x="1283.1" y="1840" width="32.2" height="30.3" fill="#f5484f"/>
<rect x="1283.1" y="1820.4" width="32.2" height="20" fill="#4b5c78"/>
<rect x="1283.1" y="1814.8" width="32.2" height="6" fill="#46a53a"/>
<rect class="ax" x="1158.9" y="1773.7" width="11.8" height="6.6"/>
<text class="e" x="1148.1" y="1786.1">250</text>
<rect class="ax" x="1158.9" y="1813.94" width="11.8" height="6.6"/>
<text class="e" x="1148.1" y="1826.34">200</text>
<rect class="ax" x="1158.9" y="1854.18" width="11.8" height="6.6"/>
<text class="e" x="1148.1" y="1866.58">150</text>
<rect class="ax" x="1158.9" y="1894.42" width="11.8" height="6.6"/>
<text class="e" x="1148.1" y="1906.82">100</text>
<rect class="ax" x="1158.9" y="1934.66" width="11.8" height="6.6"/>
<text class="e" x="1148.1" y="1947.06">50</text>
<text class="e" x="1148.1" y="1987.3">0</text>
<rect class="ax" x="1166.3" y="1773.7" width="6.8" height="207.8"/>
<rect class="ax" x="1158.9" y="1974.9" width="272.4" height="6.6"/>
<text class="m" x="1215.1" y="2005.4">B/line</text>
<text class="m" x="1300.7" y="2005.4">Dosing</text>
<text class="m" x="1387.2" y="2005.4">F/U</text>
<rect class="ax" x="1254.1" y="2013.9" width="164.4" height="1.8"/>
<text class="m" x="1338.2" y="2040.9">Peak</text>
<text class="m" x="1383.4" y="1967.5">nd</text>
</g>
<g>
<text class="m" x="1805.3" y="1760.6">Seq#56</text>
<text class="m" transform="translate(1600.3 1877.7) rotate(-90)">SFC/2x10<tspan font-size="17" dy="-7.4">5</tspan></text>
<rect x="1705.8" y="1973.5" width="32.2" height="5.1" fill="#f06b45"/>
<rect x="1705.8" y="1971.4" width="32.2" height="2.5" fill="#479b94"/>
<rect x="1705.8" y="1965.9" width="32.2" height="5.9" fill="#92fb2a"/>
<rect x="1705.8" y="1951" width="32.2" height="15.3" fill="#85cbdc"/>
<rect x="1705.8" y="1949.3" width="32.2" height="2.1" fill="#d98cfb"/>
<rect x="1791.8" y="1952" width="32.2" height="26.6" fill="#c9a22a"/>
<rect x="1791.8" y="1945.2" width="32.2" height="7.2" fill="#f06b45"/>
<rect x="1791.8" y="1918" width="32.2" height="27.6" fill="#479b94"/>
<rect x="1791.8" y="1883.9" width="32.2" height="34.5" fill="#92fb2a"/>
<rect x="1791.8" y="1818.3" width="32.2" height="66" fill="#85cbdc"/>
<rect x="1791.8" y="1798.7" width="32.2" height="20" fill="#ecbe2f"/>
<rect x="1791.8" y="1787.4" width="32.2" height="11.7" fill="#d98cfb"/>
<rect class="ax" x="1668.2" y="1773.7" width="11.8" height="6.6"/>
<text class="e" x="1657.4" y="1786.1">700</text>
<rect class="ax" x="1668.2" y="1802.44" width="11.8" height="6.6"/>
<text class="e" x="1657.4" y="1814.84">600</text>
<rect class="ax" x="1668.2" y="1831.19" width="11.8" height="6.6"/>
<text class="e" x="1657.4" y="1843.59">500</text>
<rect class="ax" x="1668.2" y="1859.93" width="11.8" height="6.6"/>
<text class="e" x="1657.4" y="1872.33">400</text>
<rect class="ax" x="1668.2" y="1888.67" width="11.8" height="6.6"/>
<text class="e" x="1657.4" y="1901.07">300</text>
<rect class="ax" x="1668.2" y="1917.41" width="11.8" height="6.6"/>
<text class="e" x="1657.4" y="1929.81">200</text>
<rect class="ax" x="1668.2" y="1946.16" width="11.8" height="6.6"/>
<text class="e" x="1657.4" y="1958.56">100</text>
<text class="e" x="1657.4" y="1987.3">0</text>
<rect class="ax" x="1675.6" y="1773.7" width="6.8" height="207.8"/>
<rect class="ax" x="1668.2" y="1974.9" width="272.4" height="6.6"/>
<text class="m" x="1724" y="2005.4">B/line</text>
<text class="m" x="1809.4" y="2005.4">Dosing</text>
<text class="m" x="1895.8" y="2005.4">F/U</text>
<rect class="ax" x="1763.4" y="2013.9" width="164.4" height="1.8"/>
<text class="m" x="1848.5" y="2040.9">Peak</text>
<text class="m" x="1893" y="1967.5">nd</text>
</g>
<g>
<rect x="1983.9" y="878.5" width="179.9" height="525.7" fill="#fff" stroke="#000" stroke-width="3.8"/>
<text class="m" x="2070.5" y="918.2">Targeted</text>
<text class="m" x="2071.4" y="948">TAAs</text>
<rect x="2002" y="955.3" width="13.7" height="13.5" fill="#46a53a" stroke="rgba(0,0,0,0.16)" stroke-width="0.8"/>
<text x="2026.6" y="972.3">Survivin</text>
<rect x="2002" y="980.5" width="13.7" height="13.5" fill="#4b5c78" stroke="rgba(0,0,0,0.16)" stroke-width="0.8"/>
<text x="2026.6" y="997.5">NY-ESO-1</text>
<rect x="2002" y="1005.7" width="13.7" height="13.5" fill="#f5484f" stroke="rgba(0,0,0,0.16)" stroke-width="0.8"/>
<text x="2026.6" y="1022.7">MAGE-A4</text>
<rect x="2002" y="1031" width="13.7" height="13.5" fill="#5b8ff9" stroke="rgba(0,0,0,0.16)" stroke-width="0.8"/>
<text x="2026.6" y="1048">SSX2</text>
<rect x="2002" y="1056" width="13.7" height="13.5" fill="#6e63fd" stroke="rgba(0,0,0,0.16)" stroke-width="0.8"/>
<text x="2026.6" y="1073">PRAME</text>
<text class="m" x="2071.9" y="1169.9">Non-Targeted</text>
<text class="m" x="2073" y="1200.2">TAAs</text>
<rect x="2005.2" y="1212.7" width="14.2" height="13.7" fill="#d98cfb" stroke="rgba(0,0,0,0.16)" stroke-width="0.8"/>
<text x="2030.3" y="1230.5">WT1</text>
<rect x="2005.2" y="1238.2" width="14.2" height="13.7" fill="#ecbe2f" stroke="rgba(0,0,0,0.16)" stroke-width="0.8"/>
<text x="2030.3" y="1256">AFP</text>
<rect x="2005.2" y="1264.3" width="14.2" height="13.7" fill="#85cbdc" stroke="rgba(0,0,0,0.16)" stroke-width="0.8"/>
<text x="2030.3" y="1282.1">MART1</text>
<rect x="2005.2" y="1290.2" width="14.2" height="13.7" fill="#92fb2a" stroke="rgba(0,0,0,0.16)" stroke-width="0.8"/>
<text x="2030.3" y="1308">MC1</text>
<rect x="2005.2" y="1316.2" width="14.2" height="13.7" fill="#479b94" stroke="rgba(0,0,0,0.16)" stroke-width="0.8"/>
<text x="2030.3" y="1334">MA3</text>
<rect x="2005.2" y="1341.7" width="14.2" height="13.7" fill="#f06b45" stroke="rgba(0,0,0,0.16)" stroke-width="0.8"/>
<text x="2030.3" y="1359.5">MA2B</text>
<rect x="2005.2" y="1367.8" width="14.2" height="13.7" fill="#c9a22a" stroke="rgba(0,0,0,0.16)" stroke-width="0.8"/>
<text x="2030.3" y="1385.6">MA1</text>
</g>
</svg></body></html>
